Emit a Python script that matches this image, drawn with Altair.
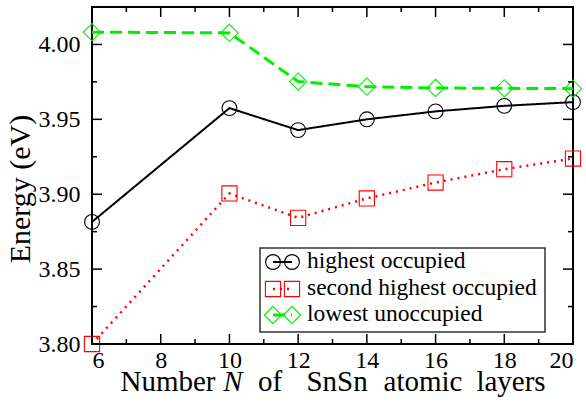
import altair as alt
import pandas as pd

# Number of SnSn atomic layers
layers = [6, 10, 12, 14, 16, 18, 20]

# Energies (eV) of the three states
highest_occupied = [3.8815, 3.9575, 3.9428, 3.9500, 3.9553, 3.9590, 3.9615]
second_highest_occupied = [3.8000, 3.9005, 3.8842, 3.8972, 3.9078, 3.9167, 3.9238]
lowest_unoccupied = [4.0082, 4.0077, 3.9752, 3.9718, 3.9709, 3.9707, 3.9705]

series_names = ["highest occupied", "second highest occupied", "lowest unoccupied"]

# Tick values
x_major = [6, 8, 10, 12, 14, 16, 18, 20]
x_minor = [7, 9, 11, 13, 15, 17, 19]
y_major = [3.80, 3.85, 3.90, 3.95, 4.00]
y_minor = [3.825, 3.875, 3.925, 3.975]

W, H = 481, 337
FONT = "Liberation Serif, Liberation Sans, sans-serif"

x_scale = alt.Scale(domain=[6, 20], nice=False, zero=False)
y_scale = alt.Scale(domain=[3.80, 4.025], nice=False, zero=False)

styles = {
    "highest occupied": dict(color="#000000", shape="circle", size=220, dash=[1, 0], width=2.0),
    "second highest occupied": dict(color="#ff0000", shape="square", size=230, dash=[2, 5], width=2.5),
    "lowest unoccupied": dict(color="#00ee00", shape="diamond", size=300, dash=[12, 6], width=3.0),
}

frames = []
for name, vals in zip(series_names, [highest_occupied, second_highest_occupied, lowest_unoccupied]):
    frames.append(pd.DataFrame({"N": layers, "E": vals, "series": name}))
df = pd.concat(frames, ignore_index=True)

x_axis = alt.Axis(values=x_major, labelFont=FONT, labelFontSize=24, labelColor="black",
                  ticks=False, tickSize=0, domain=False, grid=False, title=None, labelPadding=4)
y_axis = alt.Axis(values=y_major, format=".2f", labelFont=FONT, labelFontSize=24, labelColor="black",
                  ticks=False, tickSize=0, domain=False, grid=False, title=None, labelPadding=12)


def X(field):
    return alt.X(field, type="quantitative", scale=x_scale, axis=x_axis)


def Y(field):
    return alt.Y(field, type="quantitative", scale=y_scale, axis=y_axis)


layers_list = []
for name in series_names:
    st = styles[name]
    sub = alt.Chart(df[df.series == name])
    line = sub.mark_line(color=st["color"], strokeWidth=st["width"], strokeDash=st["dash"]).encode(
        x=X("N"), y=Y("E"))
    pts = sub.mark_point(shape=st["shape"], size=st["size"], filled=False, color=st["color"],
                         strokeWidth=1.1, opacity=1).encode(x=X("N"), y=Y("E"))
    layers_list += [line, pts]


# Inward ticks on all four sides
def xticks(vals, length):
    d = alt.Chart(pd.DataFrame({"t": vals}))
    bottom = d.mark_rule(color="black", strokeWidth=1.5).encode(
        x=X("t"), y=alt.value(H), y2=alt.value(H - length))
    top = d.mark_rule(color="black", strokeWidth=1.5).encode(
        x=X("t"), y=alt.value(0), y2=alt.value(length))
    return [bottom, top]


def yticks(vals, length):
    d = alt.Chart(pd.DataFrame({"t": vals}))
    left = d.mark_rule(color="black", strokeWidth=1.5).encode(
        y=Y("t"), x=alt.value(0), x2=alt.value(length))
    right = d.mark_rule(color="black", strokeWidth=1.5).encode(
        y=Y("t"), x=alt.value(W), x2=alt.value(W - length))
    return [left, right]


ticks = xticks(x_major, 10) + xticks(x_minor, 5) + yticks(y_major, 10) + yticks(y_minor, 5)

# Legend box
one = pd.DataFrame({"k": [0]})
legend_box = alt.Chart(one).mark_rect(fill="white", stroke="#333333", strokeWidth=1.5).encode(
    x=alt.value(168), x2=alt.value(453), y=alt.value(241), y2=alt.value(325))
legend = [legend_box]
row_y = [255, 282, 308]
for name, yy in zip(series_names, row_y):
    st = styles[name]
    d = alt.Chart(pd.DataFrame({"label": [name]}))
    legend.append(d.mark_rule(color=st["color"], strokeWidth=st["width"], strokeDash=st["dash"]).encode(
        x=alt.value(181), x2=alt.value(200), y=alt.value(yy)))
    for xx in (181, 200):
        legend.append(d.mark_point(shape=st["shape"], size=st["size"], filled=False, color=st["color"],
                                   strokeWidth=1.1, opacity=1).encode(x=alt.value(xx), y=alt.value(yy)))
    legend.append(d.mark_text(font=FONT, fontSize=23.5, align="left", baseline="middle", color="black",
                              dy=-1).encode(x=alt.value(215), y=alt.value(yy), text="label:N"))

# x title set word by word so that N is italic and the spacing is wide
x_title_words = [("Number", 76, "normal"), ("N", 141, "italic"), ("of", 178, "normal"),
                 ("SnSn", 245, "normal"), ("atomic", 331, "normal"), ("layers", 419, "normal")]
titles = [
    alt.Chart(one).mark_text(text=word, font=FONT, fontSize=29, fontStyle=style, align="center",
                             baseline="alphabetic", color="black").encode(x=alt.value(xc), y=alt.value(384))
    for word, xc, style in x_title_words
]
titles.append(
    alt.Chart(one).mark_text(text="Energy (eV)", font=FONT, fontSize=30, align="center", angle=270,
                             baseline="alphabetic", color="black").encode(x=alt.value(-62), y=alt.value(182))
)

chart = alt.layer(*layers_list, *ticks, *legend, *titles).properties(
    width=W, height=H,
    autosize=alt.AutoSizeParams(type="none"),
    padding={"left": 92, "top": 7, "right": 13, "bottom": 59},
).configure_view(stroke="black", strokeWidth=2)

chart.save("out.html", embed_options={"renderer": "svg", "actions": False})
